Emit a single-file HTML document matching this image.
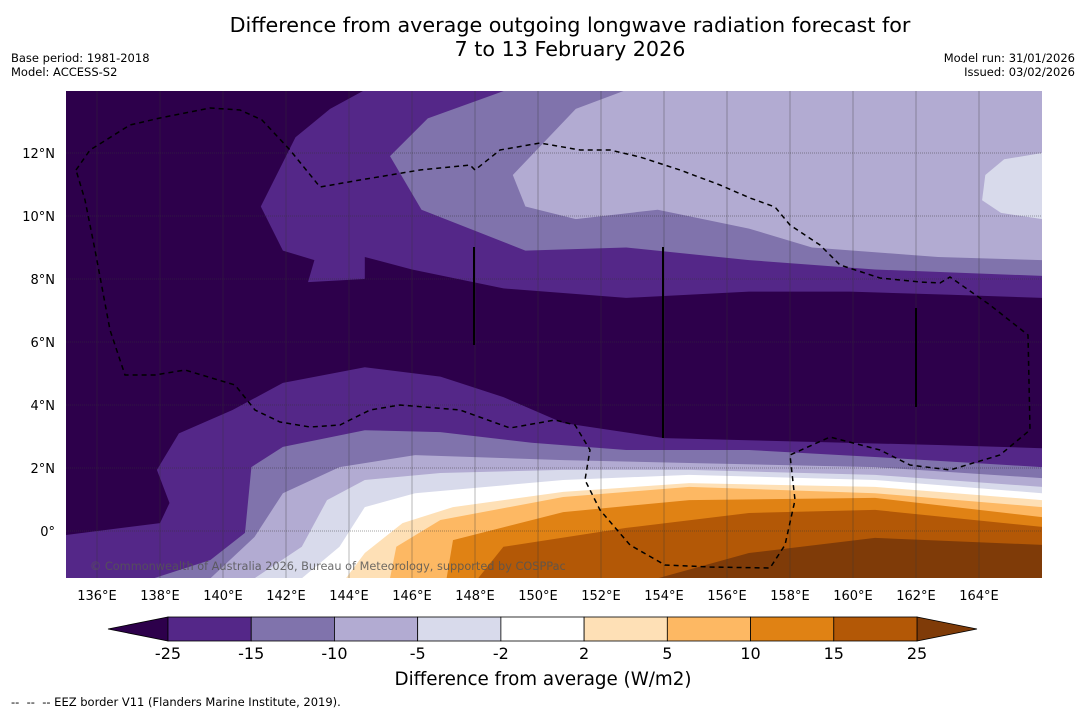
<!DOCTYPE html>
<html><head><meta charset="utf-8"><style>
body{margin:0;background:#fff;font-family:"DejaVu Sans","Liberation Sans",sans-serif;}
#wrap{position:relative;width:1085px;height:713px;overflow:hidden;}
.t{position:absolute;white-space:nowrap;color:#000;}
</style></head><body>
<div id="wrap">
<div class="t" style="left:0;width:1140px;text-align:center;top:14px;font-size:20.7px;line-height:23.5px;">Difference from average outgoing longwave radiation forecast for<br>7 to 13 February 2026</div>
<div class="t" style="left:11px;top:51px;font-size:11.5px;line-height:14px;">Base period: 1981-2018<br>Model: ACCESS-S2</div>
<div class="t" style="right:10px;top:51px;font-size:11.5px;line-height:14px;text-align:right;">Model run: 31/01/2026<br>Issued: 03/02/2026</div>
<svg id="svg" width="1085" height="713" style="position:absolute;left:0;top:0"></svg>
<div class="t" style="left:11px;top:695px;font-size:11.5px;">--&nbsp; --&nbsp; -- EEZ border V11 (Flanders Marine Institute, 2019).</div>
</div>
<script>
const levels = [-25,-15,-10,-5,-2,2,5,10,15,25];
const colors = ['#2d004b','#542788','#8073ac','#b2abd2','#d8daeb','#ffffff','#fee0b6','#fdb863','#e08214','#b35806','#7f3b08'];
const lonTicks = [136,138,140,142,144,146,148,150,152,154,156,158,160,162,164];
const latTicks = [0,2,4,6,8,10,12];
const nLon15 = [144.5,166,166,163.1,159.9,156.7,152.8,148.9,146.0,144.5,144.5,142.7,142.9,141.9,141.2,142.3,143.4];
const nLat15 = [14,14,7.4,7.5,7.6,7.6,7.4,7.7,8.3,8.7,8.0,7.9,8.6,8.9,10.3,12.5,13.4];
const nLon10 = [149.0,166,166,160.7,156.7,152.8,149.6,146.3,145.3,146.5];
const nLat10 = [14,14,8.1,8.3,8.6,9.0,8.9,10.2,11.9,13.1];
const nLon5 = [152.8,166,166,162.7,158.7,156.7,153.8,151.2,149.6,149.2,151.2];
const nLat5 = [14,14,8.6,8.7,9.0,9.6,10.2,9.9,10.3,11.3,13.4];
const nLon2 = [166,164.8,164.2,164.1,164.7,166];
const nLat2 = [12.0,11.8,11.3,10.5,10.1,9.9];
const sLon15 = [135,138.0,138.3,137.9,138.6,140.3,141.9,144.5,146.9,148.9,150.8,154.0,158.7,162.7,166,166,135];
const sLat15 = [-0.13,0.25,0.89,1.94,3.1,3.84,4.7,5.2,4.9,4.25,3.43,2.95,2.83,2.73,2.63,-1.5,-1.5];
const sLon10 = [137.8,139.6,140.7,140.9,141.9,144.5,146.9,149.8,152.8,156.7,160.7,166,166];
const sLat10 = [-1.5,-0.92,-0.06,2.03,2.67,3.2,3.14,2.8,2.57,2.57,2.35,2.03,-1.5];
const sLon5 = [139.6,141.0,141.9,143.7,146.1,150.8,154.8,160.7,166,166];
const sLat5 = [-1.5,-0.19,1.2,2.03,2.41,2.25,2.16,2.03,1.68,-1.5];
const sLon2 = [141.0,142.5,143.3,144.5,146.9,150.8,154.8,160.7,166,166];
const sLat2 = [-1.5,-0.5,0.98,1.62,1.84,1.94,1.94,1.78,1.4,-1.5];
const sLon0 = [142.5,143.7,144.5,146.1,150.8,154.8,160.7,166,166];
const sLat0 = [-1.5,-0.5,0.76,1.2,1.62,1.78,1.62,1.2,-1.5];
const sLonP2 = [143.9,144.5,145.7,147.3,150.8,154.8,160.7,166,166];
const sLatP2 = [-1.5,-0.7,0.25,0.76,1.24,1.52,1.4,0.98,-1.5];
const sLonP5 = [145.3,145.5,146.9,150.8,154.8,160.7,166,166];
const sLatP5 = [-1.5,-0.5,0.35,1.08,1.4,1.2,0.76,-1.5];
const sLonP10 = [147.1,147.3,150.8,154.8,160.7,166,166];
const sLatP10 = [-1.5,-0.29,0.6,0.98,1.05,0.44,-1.5];
const sLonP15 = [148.1,148.9,152.8,156.7,160.7,166,166];
const sLatP15 = [-1.5,-0.5,0.1,0.57,0.67,0.13,-1.5];
const sLonP25 = [153.8,156.7,160.7,166,166];
const sLatP25 = [-1.5,-0.7,-0.22,-0.44,-1.5];
const regions = [[1,nLon15,nLat15],[2,nLon10,nLat10],[3,nLon5,nLat5],[4,nLon2,nLat2],
 [1,sLon15,sLat15],[2,sLon10,sLat10],[3,sLon5,sLat5],[4,sLon2,sLat2],[5,sLon0,sLat0],
 [6,sLonP2,sLatP2],[7,sLonP5,sLatP5],[8,sLonP10,sLatP10],[9,sLonP15,sLatP15],[10,sLonP25,sLatP25]];

const FONT='DejaVu Sans, Liberation Sans, sans-serif';
const X0=66,X1=1042,Y0=91,Y1=578;
const xs = lon => 97 + (lon-136)*31.5;
const ys = lat => 531 - lat*31.5;
const NS='http://www.w3.org/2000/svg';
const svg=document.getElementById('svg');
function mk(tag,attrs,parent){const e=document.createElementNS(NS,tag);for(const k in attrs)e.setAttribute(k,attrs[k]);(parent||svg).appendChild(e);return e;}
const defs=mk('defs',{});const cp=mk('clipPath',{id:'clip'},defs);mk('rect',{x:X0,y:Y0,width:X1-X0,height:Y1-Y0},cp);
const g=mk('g',{'clip-path':'url(#clip)'});
const bg=mk('rect',{x:X0,y:Y0,width:X1-X0,height:Y1-Y0,fill:colors[0]},g);


regions.forEach((r,i)=>{
  const pts=r[1].map((lo,j)=>xs(lo).toFixed(1)+','+ys(r[2][j]).toFixed(1)).join(' ');
  const p=mk('polygon',{points:pts,fill:colors[r[0]]},g);
  
  
});
lonTicks.forEach(lo=>{const l=mk('line',{x1:xs(lo),x2:xs(lo),y1:Y0,y2:Y1,stroke:'#333','stroke-opacity':0.35,'stroke-width':1},g);

});
latTicks.forEach(la=>{const l=mk('line',{x1:X0,x2:X1,y1:ys(la),y2:ys(la),stroke:'#333','stroke-opacity':0.45,'stroke-width':1,'stroke-dasharray':'1,1'},g);

});
const eez=mk('path',{d:'M76,170 L90,150 L130,125 L160,118 L210,108 L240,110 L262,120 L290,150 L320,187 L360,180 L420,170 L470,165 L475,170 L500,150 L540,143 L580,150 L610,150 L640,157 L680,170 L720,185 L750,198 L775,207 L790,225 L820,245 L840,265 L880,278 L920,282 L940,283 L950,277 L990,305 L1028,335 L1030,430 L1000,455 L950,470 L910,465 L880,450 L830,437 L790,455 L795,500 L785,545 L770,568 L710,567 L665,565 L630,545 L600,510 L585,480 L590,450 L575,425 L555,420 L510,428 L460,410 L400,405 L370,410 L340,425 L310,427 L280,422 L255,410 L235,385 L185,370 L155,375 L125,375 L110,330 L95,250 L85,200 Z',fill:'none',stroke:'#000','stroke-width':1.5,'stroke-dasharray':'5,4'},g);


[[474,247,345],[663,247,438],[916,308,407]].forEach(v=>{const l=mk('line',{x1:v[0],x2:v[0],y1:v[1],y2:v[2],stroke:'#000','stroke-width':2},g);

});
const cr=mk('text',{x:90,y:570,'font-size':11.3,fill:'#555','fill-opacity':0.85,'font-family':FONT},g);
cr.textContent='© Commonwealth of Australia 2026, Bureau of Meteorology, supported by COSPPac';


lonTicks.forEach(lo=>{const t=mk('text',{x:xs(lo),y:600,'font-size':13,'text-anchor':'middle','font-family':FONT});t.textContent=lo+'°E';

});
latTicks.forEach(la=>{const t=mk('text',{x:55,y:ys(la)+5,'font-size':13,'text-anchor':'end','font-family':FONT});t.textContent=la===0?'0°':la+'°N';

});
const CB0=168,CB1=917,CBy=617,CBh=24,seg=(CB1-CB0)/(levels.length-1);
const lt=mk('polygon',{points:`${CB0},${CBy} ${CB0},${CBy+CBh} 108,${CBy+CBh/2}`,fill:colors[0],stroke:'#000','stroke-width':0.8});


const rt=mk('polygon',{points:`${CB1},${CBy} ${CB1},${CBy+CBh} 977,${CBy+CBh/2}`,fill:colors[10],stroke:'#000','stroke-width':0.8});


for(let i=0;i<levels.length-1;i++){const r=mk('rect',{x:CB0+i*seg,y:CBy,width:seg,height:CBh,fill:colors[i+1],stroke:'#000','stroke-width':0.8});

}
levels.forEach((v,i)=>{const t=mk('text',{x:CB0+i*seg,y:659,'font-size':16,'text-anchor':'middle','font-family':FONT});t.textContent=v;

});
const ct=mk('text',{x:543,y:685,'font-size':18.3,'text-anchor':'middle','font-family':FONT});ct.textContent='Difference from average (W/m2)';


</script>
</body></html>
